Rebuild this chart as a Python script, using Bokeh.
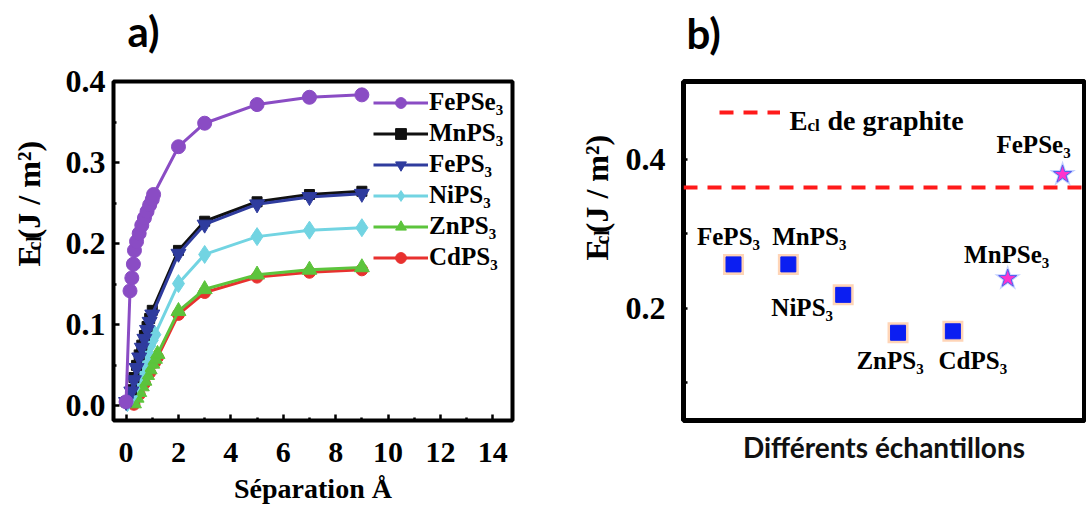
import math
from bokeh.plotting import figure
from bokeh.layouts import row, column
from bokeh.models import Range1d, FixedTicker, Label, Legend, LegendItem
from bokeh.embed import file_html
from bokeh.resources import INLINE

# ---------------- Panel a data ----------------
fepse3_x = [0.0, 0.15, 0.22, 0.28, 0.32, 0.4, 0.5, 0.6, 0.7, 0.8, 0.9, 1.0, 1.05, 2, 3, 5, 7, 9]
fepse3_y = [0.005, 0.142, 0.158, 0.175, 0.192, 0.203, 0.213, 0.223, 0.232, 0.240, 0.248, 0.255, 0.261, 0.320, 0.349, 0.372, 0.381, 0.384]

mnps3_x = [0.0, 0.2, 0.3, 0.4, 0.5, 0.6, 0.7, 0.8, 0.9, 1.0, 2, 3, 5, 7, 9]
mnps3_y = [0.005, 0.020, 0.035, 0.050, 0.063, 0.075, 0.087, 0.098, 0.108, 0.118, 0.192, 0.228, 0.252, 0.261, 0.265]

feps3_x = [0.0, 0.2, 0.3, 0.4, 0.5, 0.6, 0.7, 0.8, 0.9, 1.0, 2, 3, 5, 7, 9]
feps3_y = [0.005, 0.018, 0.032, 0.047, 0.060, 0.072, 0.083, 0.094, 0.104, 0.113, 0.188, 0.224, 0.249, 0.258, 0.262]

nips3_x = [0.05, 0.2, 0.3, 0.4, 0.5, 0.6, 0.7, 0.8, 0.9, 1.0, 1.1, 2, 3, 5, 7, 9]
nips3_y = [0.004, 0.012, 0.022, 0.032, 0.041, 0.050, 0.058, 0.066, 0.074, 0.081, 0.088, 0.151, 0.187, 0.209, 0.217, 0.220]

znps3_x = [0.3, 0.4, 0.5, 0.6, 0.7, 0.8, 0.9, 1.0, 1.1, 1.2, 2, 3, 5, 7, 9]
znps3_y = [0.003, 0.010, 0.017, 0.024, 0.031, 0.038, 0.045, 0.052, 0.058, 0.064, 0.117, 0.144, 0.162, 0.168, 0.171]

cdps3_x = [0.3, 0.5, 0.7, 0.9, 1.1, 1.2, 2, 3, 5, 7, 9]
cdps3_y = [0.002, 0.014, 0.028, 0.041, 0.054, 0.060, 0.113, 0.140, 0.159, 0.165, 0.168]

a_xticks = [0, 2, 4, 6, 8, 10, 12, 14]
a_xminor = [1, 3, 5, 7, 9, 11, 13]
a_yticks = [0.0, 0.1, 0.2, 0.3, 0.4]
a_yminor = [0.05, 0.15, 0.25, 0.35]

# ---------------- Panel b data ----------------
b_names = ["FePS₃", "MnPS₃", "NiPS₃", "ZnPS₃", "CdPS₃", "MnPSe₃", "FePSe₃"]
b_values = [0.259, 0.259, 0.218, 0.167, 0.169, 0.240, 0.380]
b_is_star = [False, False, False, False, False, True, True]
graphite_ecl = 0.3625
b_yticks = [0.2, 0.4]
b_yminor = [0.1, 0.3]

SERIF = "Liberation Serif"
SANS = "Lato"
TOP = 60          # height of the strip holding the panel letters
H = 509
ROW_H = H - TOP

# ---------------- helpers ----------------
def text_canvas(x0, x1, y0, y1):
    """A blank figure whose data units are page pixels (y downward)."""
    f = figure(width=x1 - x0, height=y1 - y0, output_backend="svg", toolbar_location=None,
               x_range=Range1d(x0, x1), y_range=Range1d(y1, y0),
               x_axis_type=None, y_axis_type=None,
               min_border_left=0, min_border_right=0, min_border_top=0, min_border_bottom=0)
    f.grid.visible = False
    f.outline_line_color = None
    f.background_fill_color = "white"
    f.border_fill_color = "white"
    return f

def in_frame_label(fig, fl, fb, px, py, text, **kw):
    """Label inside a plot frame, placed at page pixel (px, py); fl/fb = frame left/bottom."""
    return Label(x=fig.x_range.start, y=fig.y_range.start,
                 x_offset=px - fl, y_offset=fb - py, text=text, text_color="black", **kw)

def style_axes(fig, standoff_y):
    fig.grid.visible = False
    fig.outline_line_color = "black"
    fig.outline_line_width = 4
    fig.outline_line_alpha = 1
    fig.background_fill_color = "white"
    fig.border_fill_color = "white"
    for ax in (fig.xaxis[0], fig.yaxis[0]):
        ax.axis_line_color = None
        ax.major_tick_in = 6
        ax.major_tick_out = 0
        ax.minor_tick_in = 3
        ax.minor_tick_out = 0
        ax.major_tick_line_width = 2.5
        ax.minor_tick_line_width = 2.5
        ax.major_label_text_font = SERIF
        ax.major_label_text_font_style = "bold"
        ax.major_label_text_color = "black"
        ax.axis_label_text_color = "black"
    fig.yaxis[0].major_label_standoff = standoff_y
    fig.yaxis[0].major_label_text_font_size = "32px"
    fig.yaxis[0].axis_label = None

def ecl_vertical(f, base_x, start_y):
    common = dict(text_font=SERIF, text_font_style="bold", angle=math.pi / 2,
                  text_align="left", text_baseline="alphabetic", text_color="black")
    f.add_layout(Label(x=base_x, y=start_y, text="E", text_font_size="32px", **common))
    f.add_layout(Label(x=base_x + 5, y=start_y - 21, text="cl", text_font_size="20px", **common))
    f.add_layout(Label(x=base_x, y=start_y - 36, text="(J / m²)", text_font_size="32px", **common))

# ---------------- top strip with the panel letters ----------------
strip = text_canvas(0, 1086, 0, TOP)
for txt, px, py in (("a)", 127, 30), ("b)", 686, 32)):
    strip.add_layout(Label(x=px, y=py, text=txt, text_font=SANS, text_font_style="bold",
                           text_font_size="42px", text_align="left", text_baseline="middle",
                           text_color="black"))

# ---------------- y-label strip for panel a ----------------
la = text_canvas(0, 60, TOP, H)
ecl_vertical(la, 28, 305)

# ---------------- Panel a ----------------
pa = figure(width=488, height=ROW_H, output_backend="svg", toolbar_location=None,
            x_range=Range1d(-0.48, 14.75), y_range=Range1d(-0.018, 0.4005),
            min_border_left=53, min_border_right=36, min_border_top=81 - TOP, min_border_bottom=H - 420)
style_axes(pa, 8)
pa.xaxis[0].ticker = FixedTicker(ticks=a_xticks, minor_ticks=a_xminor)
pa.yaxis[0].ticker = FixedTicker(ticks=a_yticks, minor_ticks=a_yminor)
pa.yaxis[0].major_label_overrides = {0: "0.0"}
pa.xaxis[0].major_label_text_font_size = "30px"
pa.xaxis[0].major_label_standoff = 22
pa.xaxis[0].axis_label = "Séparation Å"
pa.xaxis[0].axis_label_text_font = SERIF
pa.xaxis[0].axis_label_text_font_style = "bold"
pa.xaxis[0].axis_label_text_font_size = "28px"
pa.xaxis[0].axis_label_standoff = 8

series = [
    ("CdPS₃", cdps3_x, cdps3_y, "#e8312f", "circle", 12),
    ("ZnPS₃", znps3_x, znps3_y, "#5cc43c", "triangle", 15),
    ("NiPS₃", nips3_x, nips3_y, "#72d4e2", "diamond", 18),
    ("MnPS₃", mnps3_x, mnps3_y, "#111111", "square", 10),
    ("FePS₃", feps3_x, feps3_y, "#2f3c9e", "inverted_triangle", 15),
    ("FePSe₃", fepse3_x, fepse3_y, "#8a4cc4", "circle", 14),
]
items = {}
for name, xs, ys, col, mk, sz in series:
    lr = pa.line(xs, ys, line_color=col, line_width=3)
    sr = pa.scatter(xs, ys, marker=mk, size=sz, fill_color=col, line_color=col)
    items[name] = LegendItem(label=name, renderers=[lr, sr])

legend_order = ["FePSe₃", "MnPS₃", "FePS₃", "NiPS₃", "ZnPS₃", "CdPS₃"]
leg_a = Legend(items=[items[n] for n in legend_order], location=(260, 149),
               glyph_width=55, glyph_height=27, label_height=27, spacing=3,
               label_standoff=1, padding=0, margin=0,
               background_fill_alpha=0, border_line_alpha=0,
               label_text_font=SERIF, label_text_font_style="bold",
               label_text_font_size="25px", label_text_color="black")
pa.add_layout(leg_a)

# ---------------- y-label strip for panel b ----------------
lb = text_canvas(548, 620, TOP, H)
ecl_vertical(lb, 596, 297)

# ---------------- Panel b ----------------
FB_L, FB_B = 683, 421
pb = figure(width=466, height=ROW_H, output_backend="svg", toolbar_location=None,
            x_range=Range1d(0.088, 7.40), y_range=Range1d(0.049, 0.505),
            min_border_left=63, min_border_right=2, min_border_top=78 - TOP, min_border_bottom=H - 421)
style_axes(pb, 18)
pb.outline_line_width = 5
pb.yaxis[0].ticker = FixedTicker(ticks=b_yticks, minor_ticks=b_yminor)
pb.yaxis[0].major_tick_in = 4
pb.yaxis[0].minor_tick_in = 4
pb.xaxis[0].ticker = FixedTicker(ticks=[])
pb.xaxis[0].major_label_standoff = 0
pb.xaxis[0].axis_label = "Différents échantillons"
pb.xaxis[0].axis_label_text_font = SANS
pb.xaxis[0].axis_label_text_font_style = "bold"
pb.xaxis[0].axis_label_text_font_size = "28px"
pb.xaxis[0].axis_label_text_color = "#111111"
pb.xaxis[0].axis_label_standoff = 9

gline = pb.line([0.088, 7.40], [graphite_ecl, graphite_ecl], line_color="#ff1a1a",
                line_width=4, line_dash="14 10")

b_x = list(range(1, len(b_names) + 1))
sq_x = [x for x, s in zip(b_x, b_is_star) if not s]
sq_y = [v for v, s in zip(b_values, b_is_star) if not s]
st_x = [x for x, s in zip(b_x, b_is_star) if s]
st_y = [v for v, s in zip(b_values, b_is_star) if s]

pb.scatter(sq_x, sq_y, marker="square", size=21, fill_color="#ffb37c", fill_alpha=0.55, line_color=None)
pb.scatter(sq_x, sq_y, marker="square", size=15, fill_color="#0b1ef2", line_color="#0b1ef2")
pb.scatter(st_x, st_y, marker="star", size=28, fill_color="#7d98ff", fill_alpha=0.45, line_color=None)
pb.scatter(st_x, st_y, marker="star", size=19, fill_color="#ff33cc", line_color="#5060f0", line_width=1)

label_offsets = [(-5, -28), (21, -28), (-41, 13), (-8, 28), (20, 29), (-1, -24), (-29, -30)]
for x, v, name, (dx, dy) in zip(b_x, b_values, b_names, label_offsets):
    pb.add_layout(Label(x=x, y=v, x_offset=dx, y_offset=-dy, text=name,
                        text_font=SERIF, text_font_style="bold", text_font_size="25px",
                        text_align="center", text_baseline="middle", text_color="black"))

leg_b = Legend(items=[LegendItem(label=" ", renderers=[gline])], location=(36, 298),
               glyph_width=61, glyph_height=20, label_height=20, label_standoff=0,
               padding=0, margin=0, background_fill_alpha=0, border_line_alpha=0,
               label_text_font_size="10px")
pb.add_layout(leg_b)
pb.add_layout(in_frame_label(pb, FB_L, FB_B, 789, 121, "E", text_font=SERIF, text_font_style="bold",
                             text_font_size="27px", text_align="left", text_baseline="alphabetic"))
pb.add_layout(in_frame_label(pb, FB_L, FB_B, 807, 126, "cl", text_font=SERIF, text_font_style="bold",
                             text_font_size="17px", text_align="left", text_baseline="alphabetic"))
pb.add_layout(in_frame_label(pb, FB_L, FB_B, 827, 121, "de graphite", text_font=SERIF, text_font_style="bold",
                             text_font_size="28px", text_align="left", text_baseline="alphabetic"))

layout = column(strip, row(la, pa, lb, pb))
open("out.html", "w").write(file_html(layout, INLINE))
